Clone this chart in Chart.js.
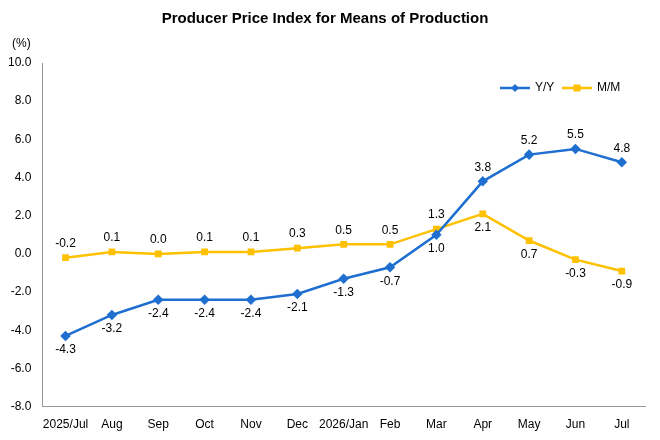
<!DOCTYPE html><html><head><script src="https://cdn.jsdelivr.net/npm/chart.js@4"></script>
<style>body{margin:0;background:#fff}#w{width:660px;height:440px}</style></head><body><div id="w"><canvas id="c"></canvas></div>
<script>
const categories=["2025/Jul","Aug","Sep","Oct","Nov","Dec","2026/Jan","Feb","Mar","Apr","May","Jun","Jul"];
const yy=[-4.3,-3.2,-2.4,-2.4,-2.4,-2.1,-1.3,-0.7,1.0,3.8,5.2,5.5,4.8];
const mm=[-0.2,0.1,0.0,0.1,0.1,0.3,0.5,0.5,1.3,2.1,0.7,-0.3,-0.9];
const yyAbove=[0,0,0,0,0,0,0,0,0,1,1,1,1];
const mmAbove=[1,1,1,1,1,1,1,1,1,0,0,0,0];
const labelPlugin={id:'lbl',afterDatasetsDraw(ch){const c=ch.ctx;c.save();c.font='12px Arial, Liberation Sans';c.fillStyle='#000';c.textAlign='center';
[[0,yy,yyAbove],[1,mm,mmAbove]].forEach(([i,d,a])=>{ch.getDatasetMeta(i).data.forEach((p,j)=>{c.textBaseline=a[j]?'bottom':'top';c.fillText(d[j].toFixed(1),p.x,a[j]?p.y-8:p.y+8);});});
c.textAlign='left';c.textBaseline='middle';c.fillText('(%)',12,44);
// legend
const items=[['Y/Y','#1f6fd1',500,'d'],['M/M','#ffc000',562,'s']];
items.forEach(([t,col,x,s])=>{const y=88;c.strokeStyle=col;c.fillStyle=col;c.lineWidth=2.5;c.beginPath();c.moveTo(x,y);c.lineTo(x+30,y);c.stroke();
c.beginPath();if(s==='d'){c.moveTo(x+15,y-4);c.lineTo(x+19,y);c.lineTo(x+15,y+4);c.lineTo(x+11,y);}else{c.rect(x+11.5,y-3.5,7,7);}c.fill();
c.fillStyle='#000';c.fillText(t,x+35,y);});
c.restore();}};
new Chart(document.getElementById('c'),{type:'line',data:{labels:categories,datasets:[
{label:'Y/Y',data:yy,borderColor:'#1f6fd1',backgroundColor:'#1f6fd1',borderWidth:2.5,pointStyle:'rectRot',pointRadius:3.5,tension:0},
{label:'M/M',data:mm,borderColor:'#ffc000',backgroundColor:'#ffc000',borderWidth:2.5,pointStyle:'rect',pointRadius:3,tension:0}]},
options:{responsive:true,maintainAspectRatio:false,animation:false,layout:{padding:{left:5,right:15,top:0,bottom:5}},
plugins:{title:{display:true,text:'Producer Price Index for Means of Production',font:{size:15,weight:'bold',family:'Arial, Liberation Sans'},color:'#000',padding:{top:10,bottom:35}},
legend:{display:false},tooltip:{enabled:false}},
scales:{x:{offset:true,grid:{display:false},border:{color:'#999'},ticks:{color:'#000',maxRotation:0,autoSkip:false,font:{size:12,family:'Arial, Liberation Sans'}}},
y:{min:-8,max:10,grid:{display:false},border:{color:'#999'},ticks:{stepSize:2,color:'#000',callback:v=>v.toFixed(1),font:{size:12,family:'Arial, Liberation Sans'}}}}},
plugins:[labelPlugin]});
</script></body></html>
